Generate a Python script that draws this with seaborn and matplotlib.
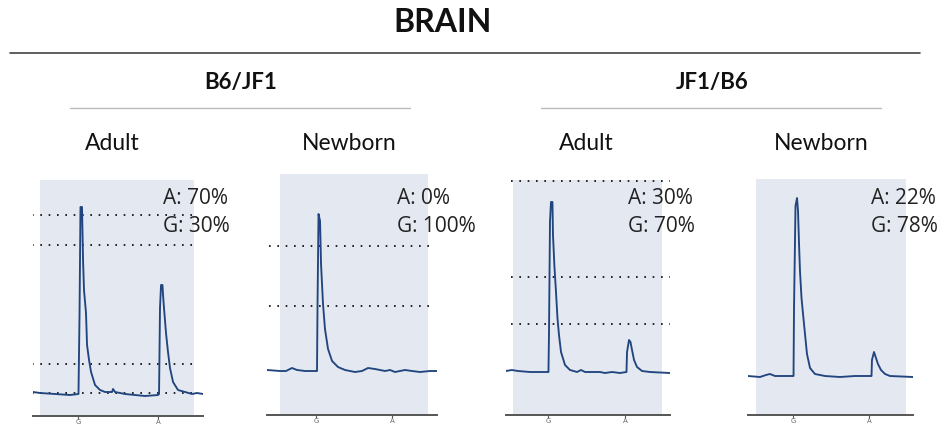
import matplotlib
matplotlib.use("Agg")
import matplotlib.pyplot as plt
import seaborn as sns
import pandas as pd
from matplotlib.lines import Line2D

# ---- data -------------------------------------------------------------
# Pyrogram traces: dispensation position (G = 1, A = 2) and light signal
# above baseline (arbitrary units).
adult_b6jf1_pos = [0.438, 0.525, 0.713, 0.900, 1.006, 1.019, 1.031, 1.050, 1.063, 1.075,
                   1.100, 1.113, 1.138, 1.163, 1.213, 1.275, 1.338, 1.425, 1.438, 1.463,
                   1.588, 1.713, 1.838, 2.000, 2.013, 2.025, 2.038, 2.056, 2.063, 2.075,
                   2.100, 2.125, 2.150, 2.188, 2.250, 2.338, 2.425, 2.488, 2.563]
adult_b6jf1_sig = [2, 1, 0, -1, 0, 79, 187, 187, 134, 104,
                   81, 49, 34, 22, 9, 4, 2, 2, 5, 2,
                   0, -1, -2, -1, 0, 86, 109, 109, 99, 86,
                   61, 42, 26, 12, 4, 2, 0, 1, 0]

newborn_b6jf1_pos = [0.355, 0.526, 0.605, 0.684, 0.750, 0.855, 1.000, 1.013, 1.020, 1.033,
                     1.053, 1.066, 1.092, 1.118, 1.158, 1.211, 1.289, 1.382, 1.513, 1.605,
                     1.684, 1.776, 1.908, 1.974, 2.039, 2.171, 2.263, 2.368, 2.500, 2.592]
newborn_b6jf1_sig = [1, 0, 0, 3, 1, 0, 0, 0, 67, 157,
                     150, 107, 67, 42, 22, 10, 4, 1, -1, 0,
                     3, 2, 0, 1, -1, 1, 0, -1, 0, 0]

adult_jf1b6_pos = [0.455, 0.532, 0.610, 0.766, 1.006, 1.013, 1.026, 1.039, 1.058, 1.065,
                   1.084, 1.104, 1.123, 1.143, 1.169, 1.221, 1.286, 1.377, 1.429, 1.481,
                   1.675, 1.740, 1.831, 1.935, 2.019, 2.026, 2.052, 2.071, 2.091, 2.117,
                   2.156, 2.221, 2.325, 2.584]
adult_jf1b6_sig = [1, 2, 1, 0, 0, 37, 150, 170, 170, 137,
                   105, 80, 54, 37, 20, 7, 2, 0, 2, 0,
                   0, -1, 0, -1, 0, 20, 32, 30, 22, 12,
                   5, 1, 0, -1]

newborn_jf1b6_pos = [0.408, 0.566, 0.645, 0.697, 0.763, 1.007, 1.013, 1.033, 1.053, 1.066,
                     1.079, 1.092, 1.112, 1.132, 1.158, 1.184, 1.224, 1.289, 1.421, 1.618,
                     1.816, 2.033, 2.039, 2.066, 2.092, 2.118, 2.158, 2.211, 2.276, 2.579]
newborn_jf1b6_sig = [0, -1, 1, 2, 0, 0, 65, 170, 178, 165,
                     133, 105, 78, 62, 42, 22, 8, 2, 0, -1,
                     0, 0, 16, 24, 18, 12, 6, 2, 0, -1]

# Reference levels drawn as dotted lines in each pyrogram
adult_b6jf1_levels = [179, 149, 30, 1]
newborn_b6jf1_levels = [125, 65]
adult_jf1b6_levels = [191, 95, 48]
newborn_jf1b6_levels = []

# Allele quantification
allele_a = ["70%", "0%", "30%", "22%"]
allele_g = ["30%", "100%", "70%", "78%"]

dispensation = ["G", "A"]
groups = ["B6/JF1", "JF1/B6"]
stages = ["Adult", "Newborn", "Adult", "Newborn"]
tissue = "BRAIN"

# ---- layout -----------------------------------------------------------
W, H = 944, 426
sns.set_theme(style="white")
plt.rcParams["font.family"] = ["Lato", "DejaVu Sans"]

fig = plt.figure(figsize=(W / 100, H / 100), dpi=100)


def fx(px):
    return px / W


def fy(py):
    return 1 - py / H


# Panel boxes in pixels: left, right, top, bottom(axis); baseline row
panels = [
    dict(box=(33, 203, 180, 416), base=394, dot=(0.425, 2.49),
         pos=adult_b6jf1_pos, sig=adult_b6jf1_sig, lev=adult_b6jf1_levels, tx=163),
    dict(box=(267, 437, 174, 415), base=371, dot=(0.38, 2.53),
         pos=newborn_b6jf1_pos, sig=newborn_b6jf1_sig, lev=newborn_b6jf1_levels, tx=397),
    dict(box=(506, 670, 180, 415), base=372, dot=(0.52, 2.58),
         pos=adult_jf1b6_pos, sig=adult_jf1b6_sig, lev=adult_jf1b6_levels, tx=628),
    dict(box=(748, 913, 179, 415), base=376, dot=(0.42, 2.55),
         pos=newborn_jf1b6_pos, sig=newborn_jf1b6_sig, lev=newborn_jf1b6_levels, tx=871),
]
x_ranges = [(0.4375, 2.5625), (0.355, 2.592), (0.455, 2.584), (0.408, 2.579)]
bg_ranges = [(0.525, 2.45), (0.526, 2.47), (0.545, 2.48), (0.51, 2.49)]
stage_x = [112, 349, 586, 821]

trace_color = "#21457f"
bg_color = "#e4e9f1"

for i, p in enumerate(panels):
    l, r, t, b = p["box"]
    ax = fig.add_axes([fx(l), fy(b), (r - l) / W, (b - t) / H])
    ax.set_xlim(*x_ranges[i])
    ax.set_ylim(-(b - p["base"]), p["base"] - t)
    ax.axvspan(*bg_ranges[i], color=bg_color, lw=0, zorder=0)
    for lev in p["lev"]:
        ax.plot(p["dot"], [lev, lev], color="black", lw=1.2,
                linestyle=(0, (1, 4)), zorder=1)
    df = pd.DataFrame({"pos": p["pos"], "signal": p["sig"]})
    sns.lineplot(data=df, x="pos", y="signal", ax=ax, estimator=None, sort=False,
                 color=trace_color, lw=1.35, zorder=2)
    ax.set_facecolor("none")
    for s in ["top", "left", "right"]:
        ax.spines[s].set_visible(False)
    ax.spines["bottom"].set_color("#555555")
    ax.spines["bottom"].set_linewidth(1.4)
    ax.set_xticks([1, 2])
    ax.set_xticklabels(dispensation, fontsize=5, color="#666666",
                       family=["DejaVu Sans"])
    ax.tick_params(axis="x", length=2, width=0.8, color="#555555", pad=0.3,
                   bottom=True)
    ax.set_yticks([])
    ax.set_xlabel("")
    ax.set_ylabel("")

    fig.text(fx(p["tx"]), fy(199), f"A: {allele_a[i]}", ha="left", va="center",
             fontsize=15, family=["Open Sans", "DejaVu Sans"], color="#222222")
    fig.text(fx(p["tx"]), fy(227), f"G: {allele_g[i]}", ha="left", va="center",
             fontsize=15, family=["Open Sans", "DejaVu Sans"], color="#222222")
    fig.text(fx(stage_x[i]), fy(143), stages[i], ha="center", va="center",
             fontsize=16.5, color="#111111")

# Titles and separators
fig.text(fx(443), fy(22), tissue, ha="center", va="center", fontsize=23,
         fontweight="bold", color="#111111")
fig.add_artist(Line2D([fx(10), fx(920)], [fy(53), fy(53)], color="#444444", lw=1.2))

for name, cx, (x0, x1) in zip(groups, [241, 712], [(70, 410), (541, 881)]):
    fig.text(fx(cx), fy(82), name, ha="center", va="center", fontsize=16,
             fontweight="bold", color="#111111")
    fig.add_artist(Line2D([fx(x0), fx(x1)], [fy(108), fy(108)], color="#bbbbbb", lw=1.0))

fig.savefig("out.png", dpi=100)
